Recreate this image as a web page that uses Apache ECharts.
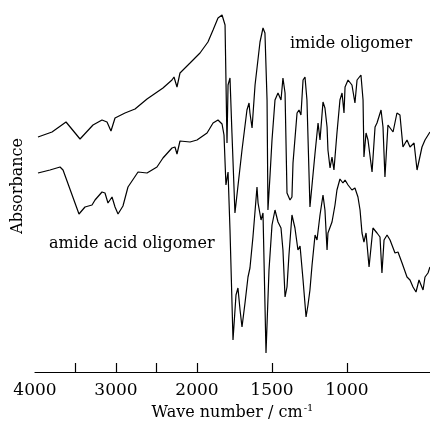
<!DOCTYPE html>
<html>
<head>
<meta charset="utf-8">
<script src="https://cdn.jsdelivr.net/npm/echarts@6/dist/echarts.min.js"></script>
<style>
  html, body { margin: 0; padding: 0; background: #fff; }
  #chart { width: 430px; height: 428px; }
</style>
</head>
<body>
<div id="chart"></div>
<script>
// wave numbers (cm-1) and absorbance (arbitrary units)
const imideWave = [3963, 3790, 3617, 3444, 3284, 3173, 3111, 3062, 3012, 2889, 2765, 2617, 2420, 2309, 2284, 2247, 2210, 2086,
  1980, 1927, 1893, 1860, 1833, 1813, 1800, 1793, 1780, 1767, 1747, 1700, 1667, 1653, 1647, 1633, 1613, 1580, 1560, 1547,
  1533, 1527, 1513, 1500, 1480, 1460, 1440, 1427, 1413, 1400, 1380, 1367, 1360, 1333, 1320, 1307, 1293, 1280, 1267, 1247,
  1213, 1193, 1180, 1160, 1147, 1133, 1127, 1113, 1100, 1087, 1067, 1047, 1033, 1020, 1013, 993, 967, 947, 933, 907, 893,
  887, 873, 860, 833, 813, 800, 773, 760, 747, 727, 693, 667, 647, 627, 600, 580, 553, 533, 500, 480, 447];
const imideAbs = [235, 240, 250, 233, 247, 252, 250, 241, 254, 259, 263, 273, 284, 292, 295, 285, 299, 309,
  319, 330, 342, 354, 357, 347, 229, 287, 294, 239, 159, 222, 262, 269, 259, 244, 287, 330, 344, 339,
  272, 162, 197, 232, 272, 279, 272, 294, 279, 179, 172, 175, 209, 259, 262, 257, 292, 295, 272, 165,
  219, 249, 232, 270, 264, 245, 222, 204, 215, 202, 239, 272, 279, 259, 285, 292, 287, 269, 292, 297, 272,
  215, 239, 232, 200, 245, 249, 262, 245, 195, 247, 240, 259, 257, 225, 232, 225, 229, 202, 225, 232, 240];

const amideWave = [3963, 3815, 3691, 3654, 3457, 3383, 3296, 3259, 3173, 3136, 3099, 3049, 3012, 2975, 2914, 2852, 2728, 2617,
  2494, 2420, 2309, 2272, 2247, 2210, 2086, 2000, 1933, 1893, 1860, 1833, 1820, 1807, 1793, 1780, 1760, 1740, 1727, 1713,
  1700, 1680, 1660, 1647, 1627, 1600, 1593, 1573, 1560, 1540, 1520, 1500, 1480, 1460, 1440, 1427, 1413, 1400, 1387, 1367,
  1347, 1327, 1313, 1293, 1273, 1260, 1247, 1233, 1213, 1200, 1180, 1160, 1147, 1133, 1127, 1100, 1080, 1067, 1047, 1027,
  1013, 993, 967, 947, 927, 913, 900, 887, 873, 853, 827, 800, 780, 767, 753, 733, 713, 680, 660, 633, 600, 580, 560, 540,
  520, 493, 480, 460, 447];
const amideAbs = [199, 202, 205, 202, 158, 165, 167, 172, 180, 179, 169, 175, 165, 158, 166, 185, 200, 199,
  205, 214, 224, 225, 218, 231, 230, 232, 239, 249, 252, 248, 237, 187, 200, 142, 32, 77, 84, 62,
  45, 69, 95, 104, 135, 185, 169, 152, 159, 19, 102, 147, 162, 150, 144, 122, 75, 85, 117, 157,
  144, 122, 126, 92, 55, 67, 82, 107, 137, 132, 157, 177, 162, 122, 139, 150, 167, 182, 193, 189,
  192, 187, 182, 184, 175, 162, 139, 130, 139, 105, 144, 139, 135, 99, 132, 137, 132, 119, 120, 109, 95, 92, 85, 80,
  92, 82, 95, 99, 105];

const tickWaves = [3500, 3000, 2500, 2000, 1500, 1000];
const labelWaves = [4000, 3000, 2000, 1500, 1000];

// the scale changes at 2000 cm-1
const toPos = w => (w >= 2000 ? (4000 - w) * 0.081 : 162 + (2000 - w) * 0.15);
const toWave = p => (p <= 162 ? 4000 - p / 0.081 : 2000 - (p - 162) / 0.15);

const serif = 'DejaVu Serif';
const myChart = echarts.init(document.getElementById('chart'));
const option = {
  animation: false,
  grid: { left: 35, right: 0, top: 0, bottom: 56 },
  xAxis: {
    type: 'value',
    min: 0,
    max: 395,
    name: '{a|Wave number / cm}{s|-1}',
    nameLocation: 'middle',
    nameGap: 30,
    nameTextStyle: {
      rich: {
        a: { fontFamily: serif, fontSize: 16, color: '#000' },
        s: { fontFamily: serif, fontSize: 10, color: '#000', verticalAlign: 'top', padding: [0, 0, 8, 1] },
      },
    },
    axisLine: { lineStyle: { color: '#000', width: 1.2 } },
    axisTick: {
      inside: true,
      length: 9,
      customValues: tickWaves.map(toPos),
      lineStyle: { color: '#000', width: 1.2 },
    },
    axisLabel: {
      customValues: labelWaves.map(toPos),
      margin: 10,
      fontFamily: serif,
      fontSize: 17,
      color: '#000',
      formatter: v => String(Math.round(toWave(v) / 10) * 10),
    },
    splitLine: { show: false },
  },
  yAxis: {
    type: 'value',
    min: 0,
    max: 372,
    name: 'Absorbance',
    nameLocation: 'middle',
    nameGap: 9,
    nameTextStyle: { fontFamily: serif, fontSize: 16, color: '#000' },
    axisLine: { show: false },
    axisTick: { show: false },
    axisLabel: { show: false },
    splitLine: { show: false },
  },
  graphic: [
    {
      type: 'text',
      left: 290,
      top: 36,
      style: { text: 'imide oligomer', font: '16px "DejaVu Serif"', fill: '#000' },
    },
    {
      type: 'text',
      left: 49,
      top: 236,
      style: { text: 'amide acid oligomer', font: '16px "DejaVu Serif"', fill: '#000' },
    },
  ],
  series: [
    {
      name: 'imide oligomer',
      type: 'line',
      showSymbol: false,
      data: imideWave.map((w, i) => [toPos(w), imideAbs[i]]),
      lineStyle: { color: '#000', width: 1.2 },
    },
    {
      name: 'amide acid oligomer',
      type: 'line',
      showSymbol: false,
      data: amideWave.map((w, i) => [toPos(w), amideAbs[i]]),
      lineStyle: { color: '#000', width: 1.2 },
    },
  ],
};
myChart.setOption(option);
</script>
</body>
</html>
